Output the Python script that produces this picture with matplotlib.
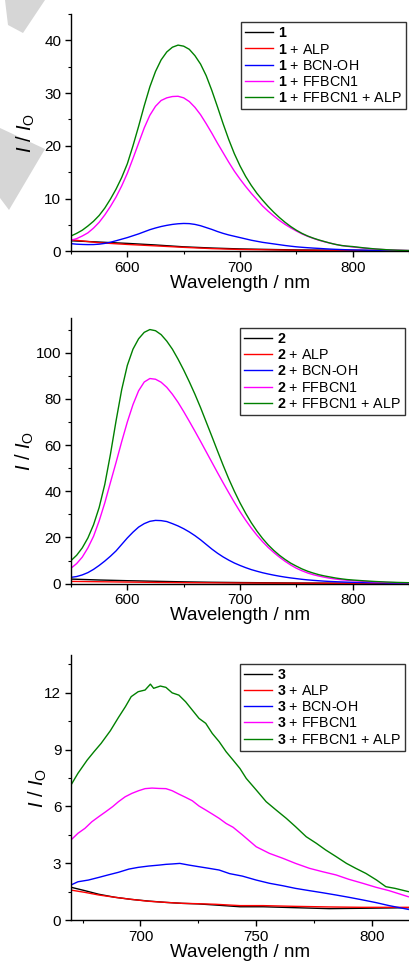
import matplotlib
matplotlib.use("Agg")
import matplotlib.pyplot as plt
from matplotlib.patches import Polygon
from matplotlib.ticker import MultipleLocator

plt.rcParams['font.family'] = ['Liberation Sans', 'DejaVu Sans']
plt.rcParams['mathtext.fontset'] = 'custom'
plt.rcParams['mathtext.rm'] = 'Liberation Sans'
plt.rcParams['mathtext.it'] = 'Liberation Sans:italic'
plt.rcParams['mathtext.bf'] = 'Liberation Sans:bold'

# ---------------- data ----------------
series_names = ['', ' + ALP', ' + BCN-OH', ' + FFBCN1', ' + FFBCN1 + ALP']
series_colors = ['#000000', '#ff0000', '#0000ff', '#ff00ff', '#008000']

# wavelength grid for the emission bands (panels 1 and 2)
wl_band = [550, 555, 560, 565, 570, 575, 580, 585, 590, 595, 600, 605, 610, 615, 620, 625,
           630, 635, 640, 645, 650, 655, 660, 665, 670, 675, 680, 685, 690, 695, 700, 705,
           710, 715, 720, 725, 730, 735, 740, 745, 750, 755, 760, 765, 770, 775, 780, 785,
           790, 795, 800, 810, 820, 830, 840, 850]
# coarse grid for the flat black / red traces
wl_flat = [550, 575, 600, 625, 650, 675, 700, 750, 800, 850]

# Panel 1 (compound 1)
p1_black = [2.0, 1.75, 1.5, 1.2, 0.85, 0.62, 0.45, 0.26, 0.18, 0.15]
p1_red = [2.2, 1.62, 1.3, 1.03, 0.75, 0.51, 0.35, 0.2, 0.14, 0.1]
p1_blue = [1.45, 1.35, 1.3, 1.27, 1.28, 1.35, 1.5, 1.72, 2.0, 2.3, 2.6, 2.95, 3.3, 3.7, 4.1, 4.42,
           4.7, 4.92, 5.1, 5.22, 5.28, 5.25, 5.1, 4.85, 4.5, 4.15, 3.75, 3.4, 3.1, 2.85, 2.6, 2.35,
           2.1, 1.9, 1.7, 1.55, 1.4, 1.25, 1.1, 0.97, 0.85, 0.76, 0.68, 0.61, 0.55, 0.48, 0.42, 0.37,
           0.33, 0.29, 0.26, 0.21, 0.17, 0.12, 0.09, 0.06]
p1_pink = [2.1, 2.4, 2.9, 3.5, 4.4, 5.5, 6.9, 8.5, 10.3, 12.4, 14.8, 17.6, 20.5, 23.4, 25.8, 27.5,
           28.6, 29.1, 29.35, 29.4, 29.1, 28.4, 27.3, 25.9, 24.2, 22.4, 20.5, 18.7, 16.9, 15.2, 13.7, 12.3,
           11.0, 9.8, 8.6, 7.6, 6.7, 5.85, 5.1, 4.45, 3.85, 3.3, 2.85, 2.45, 2.1, 1.8, 1.55, 1.3,
           1.1, 0.95, 0.82, 0.6, 0.42, 0.3, 0.2, 0.12]
p1_green = [2.9, 3.4, 4.0, 4.8, 5.7, 6.8, 8.2, 9.9, 11.8, 14.0, 16.6, 20.0, 23.7, 27.6, 31.2, 34.1,
            36.3, 37.8, 38.7, 39.1, 38.9, 38.3, 37.1, 35.5, 33.3, 30.5, 27.4, 24.2, 21.2, 18.5, 16.2, 14.2,
            12.5, 11.0, 9.7, 8.5, 7.4, 6.4, 5.5, 4.7, 4.0, 3.4, 2.9, 2.5, 2.15, 1.85, 1.55, 1.3,
            1.1, 0.98, 0.9, 0.65, 0.45, 0.3, 0.2, 0.12]

# Panel 2 (compound 2)
p2_black = [2.0, 1.6, 1.3, 1.05, 0.8, 0.62, 0.5, 0.3, 0.2, 0.15]
p2_red = [1.0, 0.85, 0.7, 0.56, 0.45, 0.37, 0.3, 0.2, 0.14, 0.1]
p2_blue = [2.75, 3.1, 3.8, 4.8, 6.2, 7.9, 9.8, 11.9, 14.2, 17.0, 19.8, 22.3, 24.5, 26.0, 27.0, 27.4,
           27.3, 26.9, 26.0, 25.0, 23.8, 22.4, 20.8, 19.0, 17.0, 15.0, 13.2, 11.6, 10.2, 8.95, 7.9, 6.95,
           6.1, 5.4, 4.75, 4.2, 3.7, 3.25, 2.85, 2.5, 2.2, 1.9, 1.65, 1.45, 1.27, 1.1, 0.97, 0.86,
           0.76, 0.67, 0.6, 0.48, 0.38, 0.28, 0.2, 0.15]
p2_pink = [6.7, 8.7, 11.5, 15.5, 20.5, 27.2, 35.0, 43.8, 52.5, 61.5, 70.0, 77.5, 83.5, 87.3, 88.8, 88.5,
           87.2, 85.0, 82.0, 78.5, 74.5, 70.3, 66.0, 61.6, 57.1, 52.6, 48.1, 43.7, 39.4, 35.2, 31.2, 27.5,
           24.1, 21.0, 18.2, 15.7, 13.5, 11.5, 9.7, 8.1, 6.7, 5.6, 4.65, 3.9, 3.3, 2.8, 2.35, 2.0,
           1.72, 1.5, 1.3, 1.0, 0.75, 0.55, 0.42, 0.3]
p2_green = [10.0, 12.3, 15.5, 19.8, 25.5, 33.0, 43.0, 56.0, 70.5, 84.0, 94.5, 101.5, 106.0, 108.8, 110.0, 109.5,
            107.8, 105.0, 101.5, 97.2, 92.5, 87.4, 82.0, 76.2, 70.0, 63.8, 57.5, 51.3, 45.4, 40.0, 35.0, 30.5,
            26.4, 22.8, 19.6, 16.8, 14.4, 12.3, 10.5, 8.9, 7.6, 6.4, 5.4, 4.6, 3.9, 3.35, 2.9, 2.45,
            2.1, 1.8, 1.6, 1.25, 0.95, 0.72, 0.55, 0.43]

# Panel 3 (compound 3)
wl3_black = [670, 676, 682, 689, 696, 703.5, 711, 718, 725, 732.5, 743, 753, 767, 781.6, 796, 815.7]
p3_black = [1.73, 1.55, 1.36, 1.2, 1.09, 1.0, 0.93, 0.88, 0.85, 0.79, 0.7, 0.7, 0.65, 0.6, 0.62, 0.65]
wl3_red = [670, 676, 682, 689, 696, 703.5, 711, 718, 725, 732.5, 743, 753, 767, 781.6, 796, 815.7]
p3_red = [1.58, 1.46, 1.32, 1.2, 1.09, 0.99, 0.93, 0.88, 0.86, 0.83, 0.76, 0.76, 0.72, 0.69, 0.67, 0.67]
wl3_blue = [670, 673, 677.5, 682, 686, 690.5, 695, 699, 703.5, 708, 711, 713.7, 717, 721, 725,
            729.6, 734, 738.5, 744, 750, 755.7, 761.5, 767, 773, 778.7, 784.5, 790, 796, 801.7,
            807.4, 815.7]
p3_blue = [1.85, 2.02, 2.11, 2.25, 2.38, 2.52, 2.69, 2.78, 2.85, 2.9, 2.94, 2.96, 2.99, 2.9, 2.82,
           2.73, 2.64, 2.45, 2.32, 2.11, 1.94, 1.81, 1.67, 1.55, 1.44, 1.32, 1.2, 1.06, 0.92,
           0.76, 0.56]
wl3_pink = [670, 673, 676, 679, 682, 685, 688, 690.5, 693.4, 696.3, 699.2, 702, 705, 708, 711,
            713.7, 716.6, 719.5, 722.4, 725.3, 728.2, 731, 734, 737, 740, 744, 750, 755.7,
            761.5, 767, 773, 778.7, 784.5, 790, 796, 801.7, 807.4, 815.7]
p3_pink = [4.23, 4.58, 4.84, 5.19, 5.46, 5.72, 5.99, 6.25, 6.51, 6.69, 6.83, 6.94, 6.97, 6.95, 6.94,
           6.83, 6.65, 6.48, 6.3, 6.02, 5.81, 5.6, 5.37, 5.1, 4.9, 4.5, 3.87, 3.52,
           3.26, 2.99, 2.73, 2.55, 2.38, 2.15, 1.94, 1.73, 1.55, 1.23]
wl3_green = [670, 673, 677, 680, 683, 687, 690.5, 693.5, 696, 699, 702, 704.3, 705.7, 708.6, 711,
             713.7, 716.6, 719.5, 722.4, 725.3, 728.2, 731, 734, 737, 740, 743, 745.7, 750,
             754.3, 758.6, 763, 767, 771.6, 776, 780, 784.5, 789, 793, 797.4, 802, 806, 810,
             815.7]
p3_green = [7.13, 7.75, 8.45, 8.9, 9.33, 10.0, 10.7, 11.27, 11.8, 12.06, 12.15, 12.46, 12.24, 12.36, 12.29,
            12.0, 11.88, 11.53, 11.09, 10.65, 10.39, 9.86, 9.42, 8.89, 8.45, 8.0, 7.48, 6.87,
            6.25, 5.81, 5.37, 4.93, 4.4, 4.05, 3.7, 3.35, 2.99, 2.73, 2.46, 2.11, 1.76, 1.67,
            1.5]

panels = [
    dict(num='1', xs=[wl_flat, wl_flat, wl_band, wl_band, wl_band],
         ys=[p1_black, p1_red, p1_blue, p1_pink, p1_green],
         xlim=(550, 850), ylim=(0, 45), xmaj=100, xmin=50, ymaj=10, ymin=5),
    dict(num='2', xs=[wl_flat, wl_flat, wl_band, wl_band, wl_band],
         ys=[p2_black, p2_red, p2_blue, p2_pink, p2_green],
         xlim=(550, 850), ylim=(0, 115), xmaj=100, xmin=50, ymaj=20, ymin=10),
    dict(num='3', xs=[wl3_black, wl3_red, wl3_blue, wl3_pink, wl3_green],
         ys=[p3_black, p3_red, p3_blue, p3_pink, p3_green],
         xlim=(670, 816), ylim=(0, 14), xmaj=50, xmin=25, ymaj=3, ymin=1.5),
]

# ---------------- layout ----------------
W, H = 409, 963
fig = plt.figure(figsize=(W / 100, H / 100), dpi=100)

def px_rect(left, top, right, bottom):
    return [left / W, 1 - bottom / H, (right - left) / W, (bottom - top) / H]

rects = [px_rect(71, 14, 409, 251.3), px_rect(71, 318, 409, 583.7), px_rect(71, 655, 409, 920)]
ylab_cx = [26, 25, 38]          # pixel x of y-label centre
xlab_dy = 32                    # pixel distance of x-label centre below axis
leg_anchor = [(0.991, 0.966), (0.988, 0.963), (0.988, 0.967)]

# light grey watermark fragments (behind everything)
for poly in [[(5, 0), (45, 0), (23, 33), (8, 25)],
             [(0, 128), (45, 149), (9, 210), (0, 198)]]:
    fig.patches.append(Polygon([(x / W, 1 - y / H) for x, y in poly], closed=True,
                               transform=fig.transFigure, facecolor='#d6d6d6',
                               edgecolor='none', zorder=-5))

for i, (p, r) in enumerate(zip(panels, rects)):
    ax = fig.add_axes(r)
    ax.set_facecolor('none')
    hpx = r[3] * H
    for xs, ys, nm, c in zip(p['xs'], p['ys'], series_names, series_colors):
        ax.plot(xs, ys, color=c, lw=1.0, label=r'$\mathbf{%s}$%s' % (p['num'], nm))
    ax.set_xlim(*p['xlim'])
    ax.set_ylim(*p['ylim'])
    ax.xaxis.set_major_locator(MultipleLocator(p['xmaj']))
    ax.xaxis.set_minor_locator(MultipleLocator(p['xmin']))
    ax.yaxis.set_major_locator(MultipleLocator(p['ymaj']))
    ax.yaxis.set_minor_locator(MultipleLocator(p['ymin']))
    ax.spines['top'].set_visible(False)
    ax.spines['right'].set_visible(False)
    for s in ('left', 'bottom'):
        ax.spines[s].set_linewidth(1.0)
    ax.tick_params(which='major', direction='out', length=4.5, width=1.0,
                   labelsize=11, pad=2.5)
    ax.tick_params(which='minor', direction='out', length=2.5, width=0.8)
    ax.set_xlabel('Wavelength / nm', fontsize=13.5, va='center')
    ax.set_ylabel(r'$\mathit{I}$ / $\mathit{I}_{\mathrm{O}}$', fontsize=14.5, va='center')
    ax.xaxis.set_label_coords(0.5, -xlab_dy / hpx)
    ax.yaxis.set_label_coords((ylab_cx[i] - 71) / 338.0, 0.5)
    leg = ax.legend(loc='upper right', bbox_to_anchor=leg_anchor[i], borderaxespad=0,
                    fontsize=10.3, frameon=True, fancybox=False, edgecolor='black',
                    handlelength=2.0, handletextpad=0.3, labelspacing=0.15,
                    borderpad=0.3)
    leg.get_frame().set_linewidth(1.0)

fig.savefig('out.png', dpi=100)
